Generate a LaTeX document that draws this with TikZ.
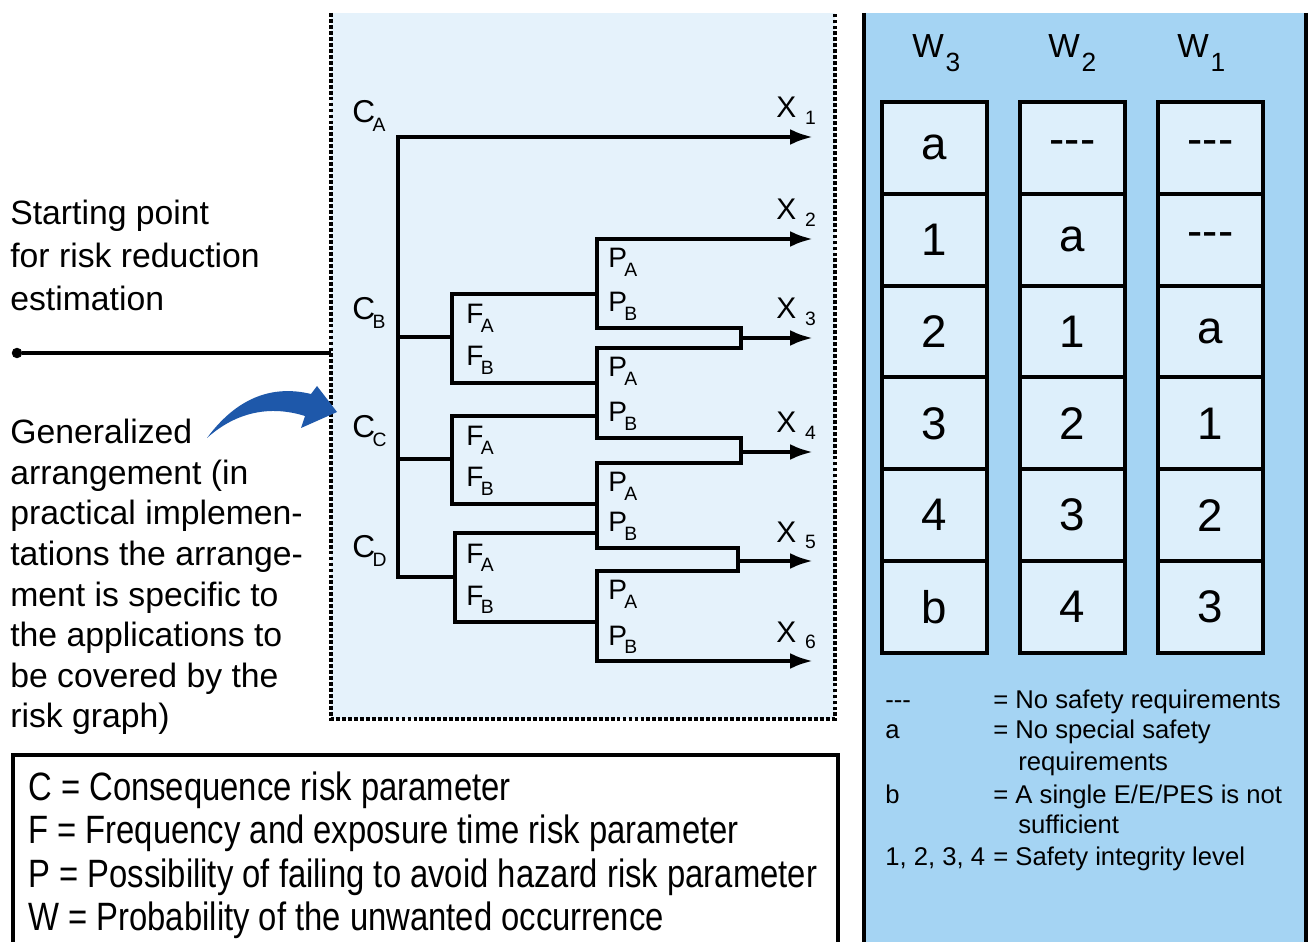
\documentclass[tikz,border=0pt]{standalone}
\usepackage{fontspec}
\setmainfont{Liberation Sans}[Ligatures=TeXOff]
\newfontfamily\keyfont{Liberation Sans}[Ligatures=TeXOff,FakeStretch=0.83]
\usetikzlibrary{arrows.meta, calc}

\definecolor{graphbg}{RGB}{229,242,251}
\definecolor{panelbg}{RGB}{165,212,243}
\definecolor{cellbg}{RGB}{221,239,251}
\definecolor{bluearrow}{RGB}{30,88,170}

\newcommand{\lab}[2]{#1\kern-1.5pt\raisebox{-5pt}{\fontsize{11}{11}\selectfont #2}}
\newcommand{\xlab}[1]{X\kern5pt\raisebox{-3.5pt}{\fontsize{11}{11}\selectfont #1}}
\newcommand{\wlab}[1]{W\kern1pt\raisebox{-7.5pt}{\fontsize{15}{15}\selectfont #1}}

\begin{document}
\begin{tikzpicture}
[
x = 0.02cm, y = -0.02cm,
>={Latex[length=13pt,width=9pt]},
point/.style = {draw, circle, fill = black, inner sep = 0pt, minimum size = 5.5pt},
branch/.style = {line width = 2.3pt, line cap = rect},
dotline/.style = {line width = 2.4pt, dash pattern = on 2.2pt off 1.2pt},
clab/.style = {anchor = base west, inner sep = 0pt, font = \fontsize{18}{18}\selectfont},
flab/.style = {anchor = base west, inner sep = 0pt, font = \fontsize{16}{16}\selectfont},
xlab/.style = {anchor = base west, inner sep = 0pt, font = \fontsize{17}{17}\selectfont},
wlab/.style = {anchor = base west, inner sep = 0pt, font = \fontsize{19}{19}\selectfont},
cell/.style = {draw, fill = cellbg, line width = 2.3pt, minimum width = 2.1cm,
  minimum height = 1.836cm, inner sep = 0pt, font = \fontsize{26}{26}\selectfont},
note/.style = {anchor = north west, inner sep = 0pt, align = left},
legend/.style = {anchor = base west, inner sep = 0pt, font = \fontsize{14.6}{14.6}\selectfont},
]

\useasboundingbox (0,0) rectangle (1309,942);

% frames
\fill[graphbg] (331,13) rectangle (835,719);
\draw[dotline] (331,13) -- (331,719) -- (835,719) -- (835,13);
\fill[panelbg] (864,13) rectangle (1306,942);
\draw[line width = 2.3pt] (864,13) -- (864,942);
\draw[line width = 2.3pt] (1306,13) -- (1306,942);
\draw[line width = 2.3pt] (13,942) -- (13,755) -- (838,755) -- (838,942);

% left texts
\node[note, font = \fontsize{19.2}{24.4}\selectfont] (start text) at (10,200)
  {Starting point\\for risk reduction\\estimation};
\node[note, font = \fontsize{19.2}{23.1}\selectfont] (general text) at (10,419)
  {Generalized\\arrangement (in\\practical implemen-\\tations the arrange-\\ment is specific to\\the applications to\\be covered by the\\risk graph)};
\node[note, font = \keyfont\fontsize{22.5}{24.8}\selectfont] (key) at (28,771)
  {C = Consequence risk parameter\\F = Frequency and exposure time risk parameter\\P = Possibility of failing to avoid hazard risk parameter\\W = Probability of the unwanted occurrence};

\node[point] (start) at (17,353) {};
\coordinate (entry) at (331,353);
\draw[line width = 1.8pt] (start) -- (entry);

\fill[bluearrow] (207,438) .. controls (235,400) and (270,384) .. (311,394)
  -- (317,386) -- (337,412) -- (301,428) -- (305,416)
  .. controls (270,405) and (236,412) .. (207,438) -- cycle;

% risk graph
\coordinate (CA) at (398,137);
\coordinate (CB) at (398,337);
\coordinate (CC) at (398,459);
\coordinate (CD) at (398,577);
\coordinate (FB) at (452,337);
\coordinate (FC) at (452,459);
\coordinate (FD) at (455,577);
\coordinate (X1) at (813,137);
\coordinate (X2) at (813,239);
\coordinate (X3) at (813,338);
\coordinate (X4) at (813,452);
\coordinate (X5) at (813,561);
\coordinate (X6) at (813,661);

\foreach \n/\x/\t/\b in {B/452/294/383, C/452/416/504, D/455/533/622}
{
  \coordinate (F\n a) at (\x,\t);
  \coordinate (F\n b) at (\x,\b);
  \draw[branch] (F\n a) -- (F\n b);
  \node[flab] (lF\n a) at (466,\t+30) {\lab{F}{A}};
  \node[flab] (lF\n b) at (466,\b-17) {\lab{F}{B}};
}

\foreach \i/\t/\b in {1/239/328, 2/348/438, 3/463/548, 4/571/661}
{
  \coordinate (P\i t) at (597,\t);
  \coordinate (P\i b) at (597,\b);
  \draw[branch] (P\i t) -- (P\i b);
  \node[flab] (lP\i a) at (608,\t+29) {\lab{P}{A}};
  \node[flab] (lP\i b) at (608,\b-16) {\lab{P}{B}};
}

\foreach \i/\x/\t/\b in {3/741/328/348, 4/741/438/463, 5/738/548/571}
{
  \coordinate (M\i a) at (\x,\t);
  \coordinate (M\i b) at (\x,\b);
}

\draw[branch] (CA) -- (CD);
\draw[branch, ->] (CA) -- (X1);
\draw[branch] (CB) -- (FB);
\draw[branch] (CC) -- (FC);
\draw[branch] (CD) -- (FD);

\draw[branch] (FBa) -- (FBa -| P1t);
\draw[branch] (FBb) -- (FBb -| P2t);
\draw[branch] (FCa) -- (FCa -| P2t);
\draw[branch] (FCb) -- (FCb -| P3t);
\draw[branch] (FDa) -- (FDa -| P3t);
\draw[branch] (FDb) -- (FDb -| P4t);

\draw[branch, ->] (P1t) -- (X2);
\draw[branch] (P1b) -- (M3a) -- (M3b) -- (P2t);
\draw[branch] (P2b) -- (M4a) -- (M4b) -- (P3t);
\draw[branch] (P3b) -- (M5a) -- (M5b) -- (P4t);
\draw[branch, ->] (M3a |- X3) -- (X3);
\draw[branch, ->] (M4a |- X4) -- (X4);
\draw[branch, ->] (M5a |- X5) -- (X5);
\draw[branch, ->] (P4b) -- (X6);

\node[clab] (lCA) at (352,123) {\lab{C}{A}};
\node[clab] (lCB) at (352,320) {\lab{C}{B}};
\node[clab] (lCC) at (352,438) {\lab{C}{C}};
\node[clab] (lCD) at (352,558) {\lab{C}{D}};

\foreach \i in {1,...,6}
  \node[xlab] (lX\i) at ($(X\i)+(-37,-19)$) {\xlab{\i}};

% table
\node[wlab] (W3) at (912,58) {\wlab{3}};
\node[wlab] (W2) at (1048,58) {\wlab{2}};
\node[wlab] (W1) at (1177,58) {\wlab{1}};

\foreach \cx/\entries [count=\c] in {934.5/{a,1,2,3,4,b}, 1072.5/{---,a,1,2,3,4}, 1210.5/{---,---,a,1,2,3}}
{
  \foreach \e [count=\r] in \entries
    \node[cell] (cell\c-\r) at (\cx,{102+(\r-0.5)*91.8}) {\e};
}

\node[legend] (kdash) at (885,708) {---};
\node[legend] (ka) at (885,738) {a};
\node[legend] (kb) at (885,803) {b};
\node[legend] (ksil) at (885,865) {1, 2, 3, 4};
\node[legend] (mdash) at (993,708) {= No safety requirements};
\node[legend] (ma) at (993,738) {= No special safety};
\node[legend] (ma2) at (1018,770) {requirements};
\node[legend] (mb) at (993,803) {= A single E/E/PES is not};
\node[legend] (mb2) at (1018,833) {sufficient};
\node[legend] (msil) at (993,865) {= Safety integrity level};
\end{tikzpicture}
\end{document}
